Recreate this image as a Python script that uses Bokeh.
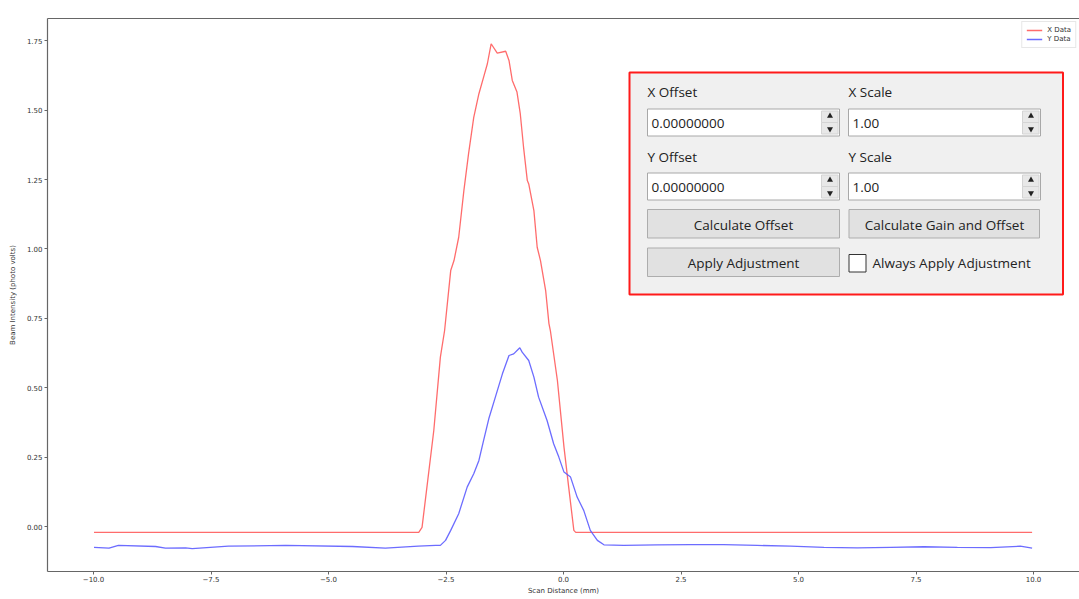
from bokeh.plotting import figure
from bokeh.models import Range1d, FixedTicker, LinearAxis, Label
from bokeh.core.properties import value
from bokeh.embed import file_html
from bokeh.resources import INLINE

# ---------------- data (intensity in units of 1e-1 photo volts) ----------------
x_data_pos = [-9.99, -6.0, -3.08, -3.01, -2.76, -2.62, -2.53, -2.40, -2.33, -2.23,
              -2.12, -2.02, -1.91, -1.80, -1.70, -1.62, -1.54, -1.41, -1.23, -1.16,
              -1.09, -0.99, -0.92, -0.85, -0.77, -0.74, -0.63, -0.56, -0.49, -0.38,
              -0.31, -0.28, -0.13, 0.01, 0.11, 0.22, 0.26, 5.0, 9.97]
x_data_val = [-0.021, -0.021, -0.021, -0.003, 0.346, 0.610, 0.706, 0.922, 0.958, 1.042,
              1.210, 1.343, 1.474, 1.559, 1.619, 1.667, 1.739, 1.705, 1.712, 1.679,
              1.607, 1.565, 1.487, 1.366, 1.246, 1.234, 1.138, 1.006, 0.958, 0.850,
              0.731, 0.706, 0.526, 0.286, 0.142, -0.014, -0.021, -0.021, -0.021]

y_data_pos = [-9.99, -9.67, -9.47, -8.68, -8.47, -8.04, -7.90, -7.13, -5.91, -4.49,
              -3.79, -3.09, -2.72, -2.62, -2.51, -2.40, -2.23, -2.05, -1.91, -1.80,
              -1.70, -1.59, -1.45, -1.30, -1.16, -1.06, -0.93, -0.88, -0.74, -0.63,
              -0.53, -0.35, -0.21, -0.10, 0.01, 0.15, 0.29, 0.43, 0.57, 0.72,
              0.86, 1.28, 1.99, 2.70, 3.41, 4.12, 4.83, 5.54, 6.25, 6.96,
              7.67, 8.38, 9.09, 9.72, 9.97]
y_data_val = [-0.075, -0.078, -0.068, -0.072, -0.078, -0.077, -0.080, -0.071, -0.068, -0.072,
              -0.078, -0.071, -0.068, -0.068, -0.050, -0.014, 0.046, 0.142, 0.190, 0.238,
              0.310, 0.388, 0.466, 0.550, 0.616, 0.622, 0.644, 0.628, 0.598, 0.538,
              0.466, 0.382, 0.298, 0.250, 0.196, 0.178, 0.106, 0.058, -0.014, -0.050,
              -0.066, -0.068, -0.066, -0.065, -0.065, -0.068, -0.071, -0.075, -0.077, -0.075,
              -0.073, -0.075, -0.076, -0.071, -0.078]

series_names = ["X Data", "Y Data"]
x_ticks = [-10.0, -7.5, -5.0, -2.5, 0.0, 2.5, 5.0, 7.5, 10.0]
x_tick_labels = ["\u221210.0", "\u22127.5", "\u22125.0", "\u22122.5", "0.0", "2.5", "5.0", "7.5", "10.0"]
y_ticks = [0.0, 0.25, 0.5, 0.75, 1.0, 1.25, 1.5, 1.75]
y_tick_labels = ["0.00", "0.25", "0.50", "0.75", "1.00", "1.25", "1.50", "1.75"]
x_label = "Scan Distance (mm)"
y_label = "Beam Intensity (photo volts)"
offset_text = "1e\u22121"

# ---------------- layout helpers (page pixels -> data) ----------------
W, H = 1079, 599
FL, FT, FR, FB = 47, 18, 1079, 571   # frame edges in page px
PXX, PXY = 47.0, 277.6               # px per data unit
X0 = -10.979
Y1 = 1.830
X1 = X0 + (FR - FL) / PXX
Y0 = Y1 - (FB - FT) / PXY


def sx(px):
    return X0 + (px - FL) / PXX


def sy(py):
    return Y1 - (py - FT) / PXY


p = figure(width=W, height=H, output_backend="svg", toolbar_location=None,
           x_range=Range1d(X0, X1), y_range=Range1d(Y0, Y1),
           min_border_left=FL, min_border_right=W - FR, min_border_top=FT, min_border_bottom=H - FB)
p.grid.visible = False
p.outline_line_color = None
p.background_fill_color = "white"
p.border_fill_color = "white"

AX = "#666666"
TXT = "#333333"
for ax in (p.xaxis[0], p.yaxis[0]):
    ax.axis_line_color = AX
    ax.axis_line_width = 1.2
    ax.major_tick_line_color = AX
    ax.major_tick_out = 3
    ax.major_tick_in = 0
    ax.minor_tick_line_color = None
    ax.major_label_text_font = "DejaVu Sans"
    ax.major_label_text_font_size = "7px"
    ax.major_label_text_color = TXT
    ax.axis_label_text_font = "DejaVu Sans"
    ax.axis_label_text_font_size = "7px"
    ax.axis_label_text_font_style = "normal"
    ax.axis_label_text_color = TXT

p.xaxis.ticker = FixedTicker(ticks=x_ticks)
p.xaxis.major_label_overrides = dict(zip(x_ticks, x_tick_labels))
p.yaxis.ticker = FixedTicker(ticks=y_ticks)
p.yaxis.major_label_overrides = dict(zip(y_ticks, y_tick_labels))
p.xaxis.axis_label = x_label
p.yaxis.axis_label = y_label
p.xaxis.major_label_standoff = 1
p.xaxis.axis_label_standoff = 2
p.yaxis.major_label_standoff = 2
p.yaxis.axis_label_standoff = 7

top = LinearAxis(ticker=FixedTicker(ticks=[]), axis_line_color=AX, axis_line_width=1.2,
                 major_tick_out=0, major_tick_in=0, minor_tick_line_color=None,
                 major_label_standoff=0, major_label_text_font_size="0px")
p.add_layout(top, "above")

p.add_layout(Label(x=sx(48), y=sy(12), text=offset_text,
                   text_font="DejaVu Sans", text_font_size="7px", text_color=TXT,
                   text_baseline="middle"))

p.line(x_data_pos, x_data_val, line_color="#ff5c5c", line_width=1.3, line_alpha=0.9,
       legend_label=series_names[0])
p.line(y_data_pos, y_data_val, line_color="#5c5cff", line_width=1.3, line_alpha=0.9,
       legend_label=series_names[1])

lg = p.legend[0]
lg.location = "top_right"
lg.margin = 3
lg.padding = 4
lg.spacing = 1
lg.label_text_font = "DejaVu Sans"
lg.label_text_font_size = "7px"
lg.label_text_color = TXT
lg.label_height = 8
lg.glyph_height = 8
lg.glyph_width = 16
lg.label_standoff = 5
lg.border_line_color = "#d0d0d0"
lg.background_fill_alpha = 0.9

# ---------------- overlay control panel ----------------
def box(l, r, t, b, fill, line, lw=1.0):
    p.quad(left=[sx(l)], right=[sx(r)], top=[sy(t)], bottom=[sy(b)],
           fill_color=fill, line_color=line, line_width=lw)


def txt(x, y, s, size="13.5px", align="left", color="#222222"):
    p.text(x=[sx(x)], y=[sy(y)], text=[s], text_font=value("Open Sans"), text_font_size=size,
           text_align=align, text_baseline="middle", text_color=color)


box(629, 1062.5, 72, 294, "#f0f0f0", "#ff1a1a", 2)

txt(647, 91.5, "X Offset")
txt(848, 91.5, "X Scale")
txt(647, 156, "Y Offset")
txt(848, 156, "Y Scale")

for (l, r, t, b, s) in [(647, 839, 108.5, 135.5, "0.00000000"), (848, 1040, 108.5, 135.5, "1.00"),
                        (647, 839, 172.5, 199.5, "0.00000000"), (848, 1040, 172.5, 199.5, "1.00")]:
    box(l, r, t, b, "white", "#a8a8a8")
    txt(l + 4, (t + b) / 2 + 0.5, s)
    box(r - 18, r - 1.5, t + 2, (t + b) / 2, "#e8e8e8", "#d4d4d4")
    box(r - 18, r - 1.5, (t + b) / 2, b - 2, "#e8e8e8", "#d4d4d4")
    p.scatter([sx(r - 9.5)], [sy(t + 7)], marker="triangle", size=6, fill_color="#222222", line_color=None)
    p.scatter([sx(r - 9.5)], [sy(b - 7)], marker="inverted_triangle", size=6, fill_color="#222222", line_color=None)

box(647, 839, 209, 237.5, "#e1e1e1", "#adadad")
txt(743, 224, "Calculate Offset", align="center")
box(848.5, 1039, 209, 237.5, "#e1e1e1", "#adadad")
txt(944, 224, "Calculate Gain and Offset", align="center")
box(647, 839, 247.5, 276, "#e1e1e1", "#adadad")
txt(743, 262.5, "Apply Adjustment", align="center")
box(848.5, 865.5, 254, 271.5, "white", "#333333")
txt(872, 262.5, "Always Apply Adjustment")

open("out.html", "w").write(file_html(p, INLINE))
